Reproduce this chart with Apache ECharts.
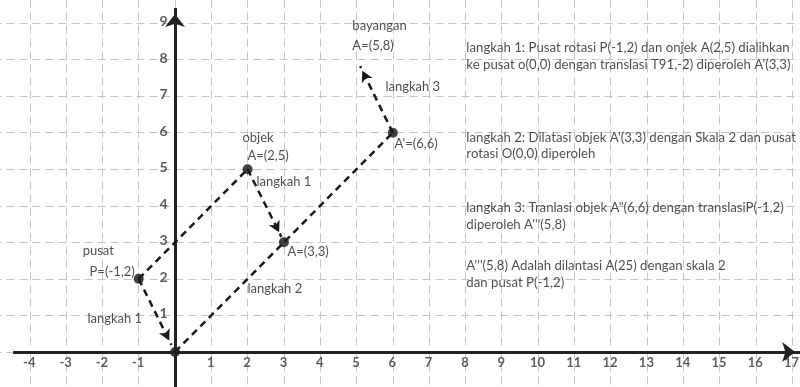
<!DOCTYPE html>
<html><head><meta charset="utf-8">
<script src="https://cdn.jsdelivr.net/npm/echarts@6/dist/echarts.min.js"></script>
<style>html,body{margin:0;padding:0;background:#fff}#c{width:800px;height:387px}</style>
</head><body><div id="c"></div>
<script>
// ---- data ----
const xTicks = [-4,-3,-2,-1,1,2,3,4,5,6,7,8,9,10,11,12,13,14,15,16,17];
const yTicks = [1,2,3,4,5,6,7,8,9];
const pointX = [-1, 0, 2, 3, 6];
const pointY = [ 2, 0, 5, 3, 6];
// dashed segments without arrow head
const lineFrom = [[-1,2],[0,0]];
const lineTo   = [[2,5],[6,6]];
// dashed segments with arrow head (tips stop at the edge of the target dot)
const arrowFrom = [[-1,2],[2,5],[6,6]];
const arrowTo   = [[-0.1,0.19],[2.93,3.15],[5.1,7.82]];
// chart annotations
const annTexts = ['bayangan','A=(5,8)','langkah 3',"A'=(6,6)",'objek','A=(2,5)','langkah 1','A=(3,3)','langkah 2','pusat','P=(-1,2)','langkah 1'];
const annX = [4.90, 4.90, 5.81, 6.06, 1.87, 2.01, 2.26, 3.11, 2.01, -2.53, -2.34, -2.40];
const annY = [8.92, 8.37, 7.25, 5.69, 5.85, 5.34, 4.65, 2.74, 1.72, 2.76, 2.19, 0.90];
// explanation notes
const noteTexts = [
  'langkah 1: Pusat rotasi P(-1,2) dan onjek A(2,5) dialihkan',
  "ke pusat o(0,0) dengan translasi T91,-2) diperoleh A'(3,3)",
  "langkah 2: Dilatasi objek A'(3,3) dengan Skala 2 dan pusat",
  'rotasi O(0,0) diperoleh',
  'langkah 3: Tranlasi objek A"(6,6) dengan translasiP(-1,2)',
  "diperoleh A'''(5,8)",
  "A'''(5,8) Adalah dilantasi A(25) dengan skala 2",
  'dan pusat P(-1,2)'
];
const noteX = 8.04;
const noteY = [8.32, 7.85, 5.85, 5.42, 3.94, 3.47, 2.35, 1.89];
// axis extents (drawn axis lines)
const xAxisLine = [-4.46, 17.25];
const yAxisLine = [-1, 9.41];

// ---- chart ----
const FONT = 'Lato';
const chart = echarts.init(document.getElementById('c'));
const gridLine = {show:true, lineStyle:{color:'#c4c4c4', width:1, type:[8,5]}};
const textSeries = (texts, xs, ys, size, extra) => ({
  type:'scatter', symbolSize:1, itemStyle:{color:'rgba(0,0,0,0)'}, silent:true, z:5,
  data: texts.map((t,i)=>({name:String(t), value:[Array.isArray(xs)?xs[i]:xs, Array.isArray(ys)?ys[i]:ys]})),
  label:Object.assign({show:true, position:[0,0], align:'left', verticalAlign:'middle',
    formatter:p=>p.name, color:'#1e1e1e', fontFamily:FONT, fontSize:size}, extra||{})
});
chart.setOption({
  animation:false,
  grid:{left:-6.5, right:-28.4, top:-13.5, bottom:-1.5, containLabel:false, outerBoundsMode:'none'},
  xAxis:{type:'value', min:-5, max:18, interval:1,
    axisLine:{show:false}, axisTick:{show:false}, axisLabel:{show:false}, splitLine:gridLine},
  yAxis:{type:'value', min:-1, max:10, interval:1,
    axisLine:{show:false}, axisTick:{show:false}, axisLabel:{show:false}, splitLine:gridLine},
  series:[
    {type:'scatter', data:[], silent:true, z:2,
      markLine:{silent:true, symbol:['none','arrow'], symbolSize:[15,13], symbolOffset:[0,[0,6]], label:{show:false},
        lineStyle:{color:'#222', width:3, type:'solid'},
        data:[[{coord:[xAxisLine[0],0]},{coord:[xAxisLine[1],0]}],
              [{coord:[0,yAxisLine[0]]},{coord:[0,yAxisLine[1]]}]]}},
    {type:'scatter', data:[], silent:true, z:3,
      markLine:{silent:true, symbol:['none','none'], label:{show:false},
        lineStyle:{color:'#1a1a1a', width:2.5, type:[7,5]},
        data:lineFrom.map((f,i)=>[{coord:f},{coord:lineTo[i]}])}},
    {type:'scatter', data:[], silent:true, z:3,
      markLine:{silent:true, symbol:['none','arrow'], symbolSize:[9,11], symbolOffset:[0,[0,5]], label:{show:false},
        lineStyle:{color:'#1a1a1a', width:2.5, type:[7,5]},
        data:arrowFrom.map((f,i)=>[{coord:f},{coord:arrowTo[i]}])}},
    {type:'scatter', symbolSize:10, itemStyle:{color:'#111'}, z:4, silent:true,
      data:pointX.map((x,i)=>[x,pointY[i]])},
    textSeries(annTexts, annX, annY, 13),
    textSeries(noteTexts, noteX, noteY, 13.2),
    textSeries(xTicks, xTicks, -0.30, 13, {align:'center', fontWeight:'bold', color:'#333'}),
    textSeries(yTicks, -0.19, yTicks.map(v=>v+0.03), 14, {align:'right', fontWeight:'bold', color:'#333'})
  ]
});
</script></body></html>
